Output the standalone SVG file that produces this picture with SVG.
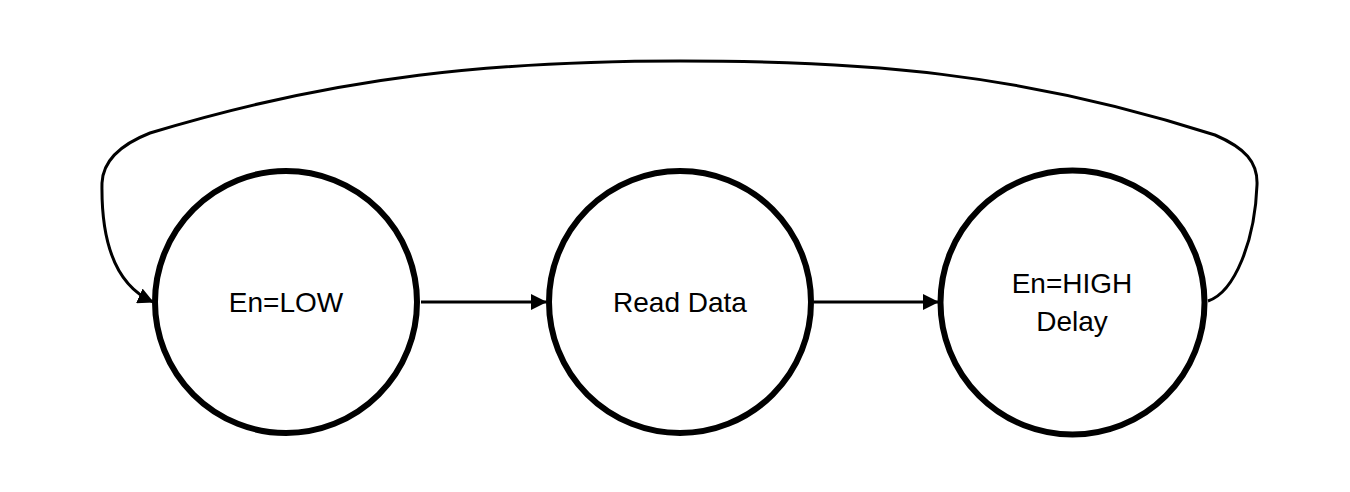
<svg xmlns="http://www.w3.org/2000/svg" width="1350" height="492" viewBox="0 0 1350 492">
<style>
.state{fill:#fff;stroke:#000;stroke-width:6}
.lbl{font-family:"Liberation Sans",Arial,sans-serif;font-size:28px;fill:#000;text-anchor:middle}
.conn{fill:none;stroke:#000;stroke-width:3}
</style>
<defs>
<marker id="arr" markerWidth="16" markerHeight="16" refX="15" refY="8" orient="auto" markerUnits="userSpaceOnUse">
<path d="M0,0 L16,8 L0,16 Z" fill="#000"/>
</marker>
</defs>
<rect width="1350" height="492" fill="#fff"/>
<g id="connectors">
<line class="conn" x1="421" y1="302" x2="546" y2="302" marker-end="url(#arr)"/>
<line class="conn" x1="814" y1="302" x2="938" y2="302" marker-end="url(#arr)"/>
<path class="conn" d="M1208,301 C1235,292 1255,240 1257,185 C1258,162 1245,148 1215,135 C1020,72 860,61 680,61 C500,61 340,75 150,133 C122,144 103,160 102,183 C101,240 115,285 153,302" marker-end="url(#arr)"/>
</g>
<g id="node-enlow">
<circle class="state" cx="286" cy="302" r="131"/>
<text class="lbl" x="286" y="312">En=LOW</text>
</g>
<g id="node-readdata">
<circle class="state" cx="680" cy="302" r="131"/>
<text class="lbl" x="680" y="312">Read Data</text>
</g>
<g id="node-enhigh">
<circle class="state" cx="1072.5" cy="302.5" r="132"/>
<text class="lbl" x="1072" y="293">En=HIGH</text>
<text class="lbl" x="1072" y="331">Delay</text>
</g>
</svg>
